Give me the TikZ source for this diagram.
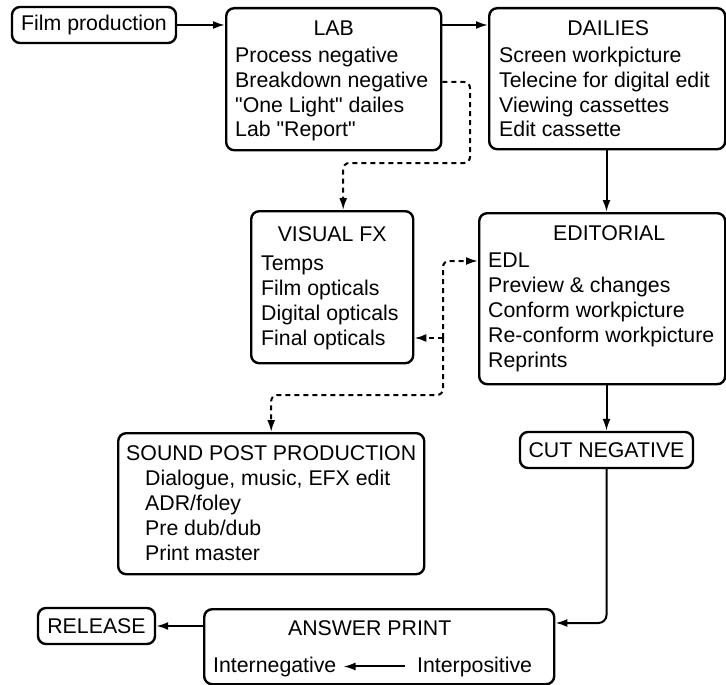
\documentclass[tikz,border=0pt]{standalone}
\usepackage{fontspec}
\setmainfont{Liberation Sans}[Ligatures=TeXOff]
\usetikzlibrary{calc,arrows.meta}

\begin{document}
\begin{tikzpicture}[x=1pt, y=-1pt, line join=round,
    every node/.style={font=\fontsize{21.3}{25}\selectfont, inner sep=0pt},
    panel/.style={draw, line width=2.4pt, rounded corners=8pt, anchor=north west},
    tag/.style={draw, line width=2.4pt, rounded corners=8pt},
    title/.style={anchor=base},
    entry/.style={anchor=base west},
    flow/.style={line width=2pt, -{Latex[length=12pt,width=8pt]}},
    dashflow/.style={flow, dash pattern=on 5pt off 4pt, rounded corners=6pt}]
    \useasboundingbox (0,0) rectangle (726,685);

    % single line boxes
    \node[tag, minimum width=164pt, minimum height=36pt] (film) at (94,25) {Film production};
    \node[tag, minimum width=173pt, minimum height=36pt] (cut) at (606.5,450) {CUT NEGATIVE};
    \node[tag, minimum width=117pt, minimum height=36pt] (release) at (96.5,626) {RELEASE};

    % LAB
    \node[panel, minimum width=215pt, minimum height=142pt] (lab) at (225,7) {};
    \node[title] (labhead) at ($(lab.north)+(0,29)$) {LAB};
    \foreach \t [count=\i] in {Process negative, Breakdown negative, "One Light" dailes, Lab "Report"}
        \node[entry] (lab\i) at (235, 38.5+24.5*\i) {\t};

    % DAILIES
    \node[panel, minimum width=236pt, minimum height=141pt] (dailies) at (488,7) {};
    \node[title] (dailieshead) at ($(dailies.north)+(1,29)$) {DAILIES};
    \foreach \t [count=\i] in {Screen workpicture, Telecine for digital edit, Viewing cassettes, Edit cassette}
        \node[entry] (dailies\i) at (499, 38.5+24.5*\i) {\t};

    % VISUAL FX
    \node[panel, minimum width=162pt, minimum height=152pt] (vfx) at (250,210) {};
    \node[title] (vfxhead) at ($(vfx.north)+(0,31)$) {VISUAL FX};
    \foreach \t [count=\i] in {Temps, Film opticals, Digital opticals, Final opticals}
        \node[entry] (vfx\i) at (261, 245+25*\i) {\t};

    % EDITORIAL
    \node[panel, minimum width=246pt, minimum height=171pt] (editorial) at (478,212) {};
    \node[title] (editorialhead) at ($(editorial.north)+(7,28)$) {EDITORIAL};
    \foreach \t [count=\i] in {EDL, Preview \& changes, Conform workpicture, Re-conform workpicture, Reprints}
        \node[entry] (editorial\i) at (488, 242.5+25*\i) {\t};

    % SOUND POST PRODUCTION
    \node[panel, minimum width=306pt, minimum height=141pt] (sound) at (117,432) {};
    \node[title] (soundhead) at ($(sound.north)+(0,28)$) {SOUND POST PRODUCTION};
    \foreach \t [count=\i] in {{Dialogue, music, EFX edit}, ADR/foley, Pre dub/dub, Print master}
        \node[entry] (sound\i) at (145, 460+25*\i) {\t};

    % ANSWER PRINT
    \node[panel, minimum width=350pt, minimum height=75pt] (answer) at (203,608) {};
    \node[title] (answerhead) at ($(answer.north)+(-9.5,27)$) {ANSWER PRINT};
    \node[entry] (interneg) at (213,672) {Internegative};
    \node[entry] (interpos) at (417,672) {Interpositive};

    % main flow
    \draw[flow] (film.east) -- (film.east -| lab.west);
    \draw[flow] (film.east -| lab.east) -- (film.east -| dailies.west);
    \draw[flow] (cut.north |- dailies.south) -- (cut.north |- editorial.north);
    \draw[flow] (cut.north |- editorial.south) -- (cut.north);
    \coordinate (apin) at ($(answer.north east)+(0,15)$);
    \draw[flow, rounded corners=8pt] (cut.south) |- (apin);
    \draw[flow] (release.east -| answer.west) -- (release.east);
    \draw[flow, shorten <=12pt, shorten >=7pt] (interpos.west) -- (interneg.east);

    % dashed links
    \coordinate (labout) at ($(lab.north east)+(0,75)$);
    \coordinate (fxbend) at (470,163);
    \coordinate (vfxin) at ($(vfx.north)+(11,0)$);
    \draw[dashflow] (labout) -- (labout -| fxbend) -- (fxbend) -- (fxbend -| vfxin) -- (vfxin);
    \coordinate (hub) at (443,338);
    \coordinate (sndbend) at (443,395);
    \draw[dashflow] (hub) |- ($(editorial.north west)+(0,49)$);
    \draw[dashflow] (hub) -- (hub -| vfx.east);
    \draw[dashflow] (hub) -- (sndbend) -| (sound.north);
\end{tikzpicture}
\end{document}
